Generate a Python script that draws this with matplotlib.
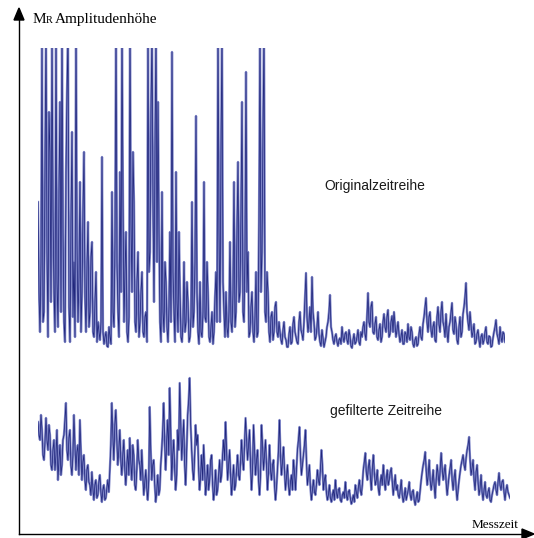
import numpy as np
import matplotlib
matplotlib.use("Agg")
import matplotlib.pyplot as plt

# amplitude of the raw series (height above its baseline), one value per sample
original = [
    150, 60, 20, 90, 310, 30, 40, 180, 320, 100, 15, 240, 200, 50, 310, 140,
    60, 20, 320, 70, 25, 160, 250, 40, 320, 120, 30, 10, 180, 260, 320, 45,
    10, 130, 220, 35, 90, 15, 320, 110, 30, 75, 170, 20, 60, 140, 200, 55,
    20, 85, 130, 25, 40, 95, 110, 20, 15, 50, 80, 10, 30, 20,
    12, 30, 195, 20, 8, 15, 20, 6, 5, 25, 15, 8,
    160, 40, 25, 110, 320, 90, 40, 15, 180, 60, 320, 150, 30, 80, 120, 20,
    10, 35, 320, 130, 60, 200, 150, 30, 20, 70, 100, 15, 30, 60, 80, 20,
    15, 35, 40, 10,
    320, 80, 100, 240, 320, 150, 50, 200, 320, 90, 250, 120, 30, 10, 160, 40,
    20, 90, 70, 25, 10, 45,
    120, 30, 300, 80, 40, 10, 180, 50, 20, 120, 60, 15, 10, 30, 90, 20,
    30, 70, 50, 10, 15, 35, 150, 25, 40, 90, 236, 60, 20, 8,
    70, 20, 15, 40, 170, 35, 30, 90, 60, 15, 10, 25, 40, 8, 20, 55,
    80, 30, 320, 120, 30, 200, 320, 70, 40, 15, 60, 25, 15, 40,
    110, 30, 20, 60, 170, 25, 40, 120, 190, 50, 60, 140, 250, 40, 30, 100,
    280, 60, 100, 15, 20, 45, 60, 20, 10, 35, 80, 15, 20, 130, 320, 60,
    100, 220, 320, 40, 30, 80, 60, 20, 10, 35, 40, 12, 20, 45, 50, 20, 15, 30,
    20, 12, 8, 22, 30, 15, 12, 5, 5, 18, 25, 8, 10, 28, 35, 20, 15, 10, 8, 30,
    40, 22, 18, 12, 30, 55, 79, 35, 20, 30, 45, 20, 75, 40, 30, 12, 15, 25,
    40, 18, 10, 6, 22, 14, 5, 10, 15, 25, 30, 40, 57, 25, 20, 12, 8, 15,
    18, 10, 6, 12, 14, 8, 25, 15, 10, 18, 20, 12, 8, 22, 16, 6, 4, 12,
    18, 8, 10, 15, 22, 10, 7, 20, 15, 25, 30, 18, 12, 35, 59, 30, 25, 45,
    50, 20, 18, 28, 35, 15, 12, 22, 28, 10, 15, 30, 38, 25, 20, 35, 42, 15,
    18, 30, 36, 20, 40, 28, 15, 22, 30, 18, 10, 15, 22, 8, 8, 20, 18, 10,
    28, 15, 12, 25, 20, 8, 5, 12, 15, 6, 8, 18, 25, 15, 12, 28, 35, 45,
    54, 30, 20, 35, 40, 22, 15, 25, 30, 12, 10, 35, 45, 28, 20, 40, 50, 30,
    25, 15, 38, 20, 10, 25, 30, 40, 49, 22, 18, 35, 28, 12, 8, 25, 35, 15,
    20, 38, 45, 55, 69, 40, 30, 22, 40, 28, 15, 20, 28, 8, 10, 18, 22, 12,
    5, 15, 18, 8, 12, 20, 25, 10, 8, 16, 15, 5, 6, 14, 20, 25, 32, 18,
    14, 8, 25, 15, 10, 20, 18, 10,
]

# amplitude of the filtered series, one value per sample
filtered = [
    88, 75, 70, 95, 80, 55, 50, 68, 92, 70, 60, 85, 75, 45, 40, 60, 70, 40,
    55, 80, 30, 50, 65, 35, 45, 70, 75, 90, 107, 60, 50, 72, 80, 45, 35, 55,
    95, 65, 40, 58, 65, 35, 90, 60, 30, 48, 55, 30, 20, 40, 45, 28, 25, 15,
    38, 22, 10, 25, 30, 12, 15, 28, 35, 18, 8, 20, 25, 10, 12, 22, 30, 18,
    40, 65,
    107, 75, 50, 85, 100, 70, 45, 60, 80, 50, 35, 55, 70, 40, 25, 45, 60, 35,
    72, 48, 30, 65, 55, 25, 20, 40, 70, 50, 45, 30, 60, 35, 15, 28, 40, 22,
    10, 30, 103, 60, 30, 45, 50, 25, 8, 18, 35, 15, 20, 45, 60, 80, 107, 65,
    40, 70, 90, 55, 122, 80, 30, 55, 70, 40, 20, 35, 80, 60, 127, 90, 50, 70,
    90, 45, 25, 60, 95, 110, 132, 85, 60, 40, 30, 55, 85, 65, 75, 40, 20, 35,
    55, 30, 65, 40, 15, 28, 45, 20, 30, 50, 55, 25, 10, 22, 40, 15, 20, 35,
    50, 28, 35, 55, 70, 50, 88, 60, 30, 45, 60, 35, 15, 30, 45, 20, 25, 40,
    55, 35, 30, 48, 70, 50, 40, 65, 92, 70, 50, 65, 80, 45, 20, 40, 85, 60,
    35, 50, 60, 30, 15, 35, 85, 65, 40, 55, 70, 45, 20, 38, 65, 40, 30, 45,
    50, 25, 10, 22, 40, 60, 90, 55, 35, 48, 63, 40, 20, 32, 45, 25, 15, 28,
    35, 20, 50, 38, 20, 40, 60, 70, 83, 55, 35, 45, 55, 65, 80, 50, 25, 35,
    45, 22, 10, 20, 30, 18, 15, 25, 40, 30, 25, 40, 60, 45, 20, 30, 35, 18,
    10, 15, 25, 12, 8, 15, 20, 10, 30, 18, 12, 20, 22, 10, 8, 15, 18, 12,
    28, 15, 10, 18, 20, 12, 6, 10, 15, 8, 25, 18, 12, 22, 30, 20, 15, 25,
    40, 48, 57, 38, 30, 42, 50, 35, 20, 40, 55, 38, 25, 30, 40, 22, 15, 28,
    35, 25, 45, 30, 20, 32, 40, 25, 30, 38, 42, 28, 15, 25, 35, 20, 25, 15,
    12, 20, 30, 15, 8, 14, 22, 10, 15, 20, 28, 15, 10, 18, 20, 10, 5, 12,
    18, 8, 10, 20, 30, 38, 45, 50, 58, 40, 25, 35, 50, 30, 20, 28, 40, 25,
    12, 30, 45, 35, 25, 40, 57, 42, 30, 38, 45, 28, 15, 25, 35, 42, 50, 30,
    20, 32, 40, 22, 10, 20, 30, 38, 45, 50, 55, 45, 40, 52, 60, 65, 73, 50,
    35, 42, 50, 30, 20, 38, 45, 28, 15, 22, 35, 18, 10, 20, 28, 15, 12, 18,
    22, 10, 8, 15, 20, 25, 28, 20, 15, 28, 37, 25, 20, 28, 30, 18, 10, 20,
    25, 18, 15, 12,
]

W, H = 534, 538
fig = plt.figure(figsize=(W / 100, H / 100), dpi=100)

# frame with the two arrows, in pixel coordinates
base = fig.add_axes([0, 0, 1, 1])
base.set_xlim(0, W)
base.set_ylim(H, 0)
base.axis("off")
base.plot([19, 19], [534, 18], color="black", lw=1.0)
base.plot([19, 524], [534, 534], color="black", lw=1.0)
base.fill([14, 24, 19], [20, 20, 8], color="black")
base.fill([522, 522, 534], [529, 539, 534], color="black")

serif = "Liberation Serif"
base.text(33, 23, "M", fontsize=11, family=serif, va="baseline")
base.text(45.5, 23, "R", fontsize=7.5, family=serif, va="baseline")
base.text(55, 23, "Amplitudenhöhe", fontsize=11, family=serif, va="baseline")
base.text(472, 528, "Messzeit", fontsize=9.5, family=serif, va="baseline")

sans = "Liberation Sans"
base.text(375, 190, "Originalzeitreihe", fontsize=10, family=sans,
          ha="center", va="baseline", color="#1a1a1a")
base.text(386, 415, "gefilterte Zeitreihe", fontsize=10, family=sans,
          ha="center", va="baseline", color="#1a1a1a")


def draw_series(rect, values, top):
    ax = fig.add_axes(rect)
    t = np.arange(len(values))
    ax.plot(t, values, color="#7f86c8", lw=1.7)
    ax.plot(t, values, color="#20267c", lw=0.55)
    ax.set_xlim(0, len(values) - 1)
    ax.set_ylim(-2, top)
    ax.axis("off")
    return ax


# original series: x 38..505 px, baseline at 352 px, clipped at 48 px
draw_series([38 / W, (H - 354) / H, (505 - 38) / W, 306 / H], original, 304)
# filtered series: x 38..510 px, baseline at 510 px
draw_series([38 / W, (H - 512) / H, (510 - 38) / W, 138 / H], filtered, 136)

fig.savefig("out.png", dpi=100)
